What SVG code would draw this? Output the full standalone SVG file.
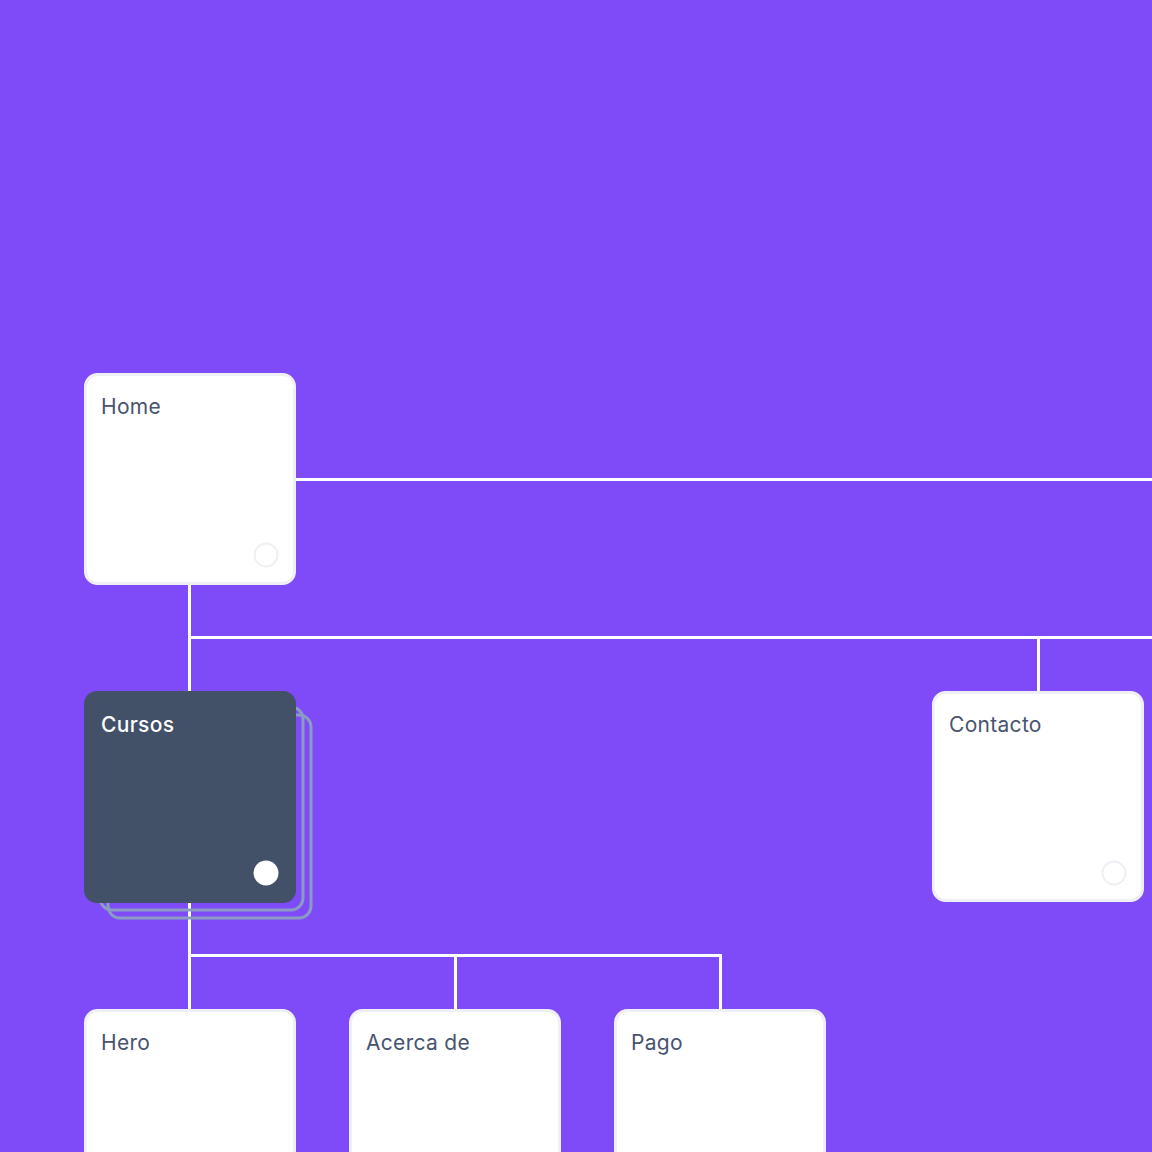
<svg xmlns="http://www.w3.org/2000/svg" width="1152" height="1152" viewBox="0 0 1152 1152">
<style>
.card{fill:#ffffff;stroke:#eef0f5;stroke-width:3}
.dark{fill:#425068}
.stack{fill:none;stroke:#8a9cc2;stroke-width:3}
.lbl{font-family:Inter,"Liberation Sans",sans-serif;font-size:21px;letter-spacing:0.3px;fill:#48546e}
.lbl-w{font-family:Inter,"Liberation Sans",sans-serif;font-size:21px;letter-spacing:0.3px;fill:#ffffff;font-weight:500}
.dot{fill:#ffffff;stroke:#eef0f5;stroke-width:2}
.conn{fill:none;stroke:#ffffff;stroke-width:3}
</style>
<rect x="0" y="0" width="1152" height="1152" fill="#7f4af8"/>
<g id="connectors">
<path class="conn" d="M296 479.5H1152"/>
<path class="conn" d="M189.5 585V691"/>
<path class="conn" d="M189.5 637.5H1152"/>
<path class="conn" d="M1038.5 637.5V691"/>
<path class="conn" d="M189.5 903V1009"/>
<path class="conn" d="M189.5 955.5H720.5V1009"/>
<path class="conn" d="M455.5 955.5V1009"/>
</g>
<g id="home">
<rect class="card" x="85.5" y="374.5" width="209" height="209" rx="12"/>
<text class="lbl" x="101" y="414">Home</text>
<circle class="dot" cx="266" cy="555" r="11.5"/>
</g>
<g id="cursos">
<rect class="stack" x="108" y="715" width="203" height="203" rx="12"/>
<rect class="stack" x="100" y="707" width="203" height="203" rx="12"/>
<rect class="dark" x="84" y="691" width="212" height="212" rx="13"/>
<text class="lbl-w" x="101" y="732">Cursos</text>
<circle cx="266" cy="873" r="12.5" fill="#ffffff"/>
</g>
<g id="contacto">
<rect class="card" x="933.5" y="692.5" width="209" height="208" rx="12"/>
<text class="lbl" x="949" y="732">Contacto</text>
<circle class="dot" cx="1114" cy="873" r="11.5"/>
</g>
<g id="hero">
<rect class="card" x="85.5" y="1010.5" width="209" height="209" rx="12"/>
<text class="lbl" x="101" y="1050">Hero</text>
</g>
<g id="acerca">
<rect class="card" x="350.5" y="1010.5" width="209" height="209" rx="12"/>
<text class="lbl" x="366" y="1050">Acerca de</text>
</g>
<g id="pago">
<rect class="card" x="615.5" y="1010.5" width="209" height="209" rx="12"/>
<text class="lbl" x="631" y="1050">Pago</text>
</g>
</svg>
